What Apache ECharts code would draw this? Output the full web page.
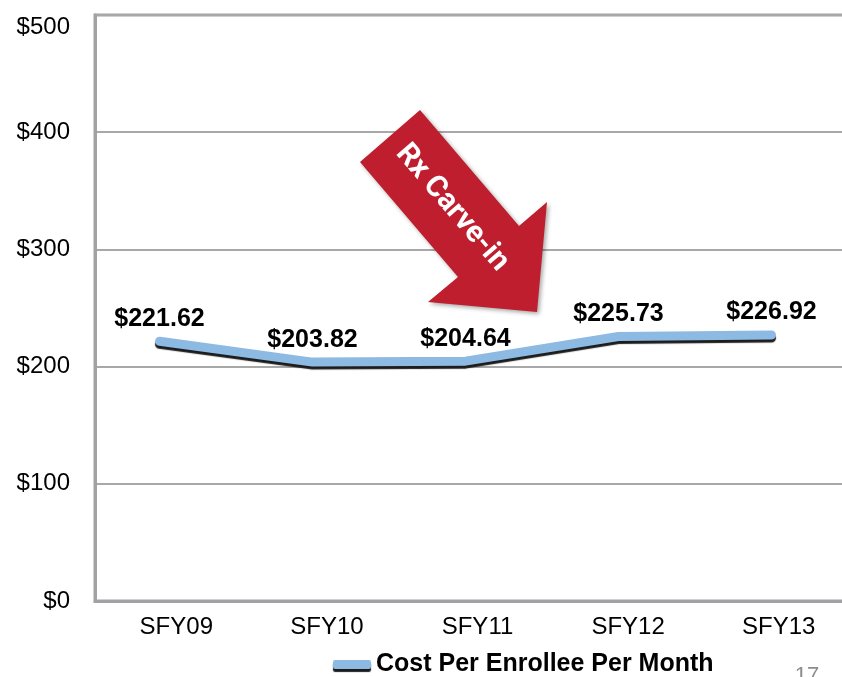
<!DOCTYPE html>
<html>
<head>
<meta charset="utf-8">
<script src="https://cdn.jsdelivr.net/npm/echarts@6/dist/echarts.min.js"></script>
<style>
  html, body { margin: 0; padding: 0; background: #fff; }
  #chart { width: 842px; height: 677px; }
</style>
</head>
<body>
<div id="chart"></div>
<script>
var years = ["SFY09", "SFY10", "SFY11", "SFY12", "SFY13"];
var costPerEnrollee = [221.62, 203.82, 204.64, 225.73, 226.92];
var seriesName = "Cost Per Enrollee Per Month";
var yTicks = { min: 0, max: 500, interval: 100 };

var plain = "'Liberation Sans', Arial, sans-serif";
var axisGray = "#a2a2a6";

var chart = echarts.init(document.getElementById("chart"));
chart.setOption({
  animation: false,
  backgroundColor: "#fff",
  grid: [
    {
      // frame, gridlines and tick labels
      left: 95,
      right: -6,
      top: 15,
      bottom: 76,
      outerBoundsMode: "none",
      show: true,
      borderColor: axisGray,
      borderWidth: 3,
      backgroundColor: "transparent",
    },
    {
      // the line sits a little left of the category labels in the original
      left: 83,
      width: 765,
      top: 15,
      bottom: 76,
      outerBoundsMode: "none",
    },
  ],
  xAxis: [
    {
      type: "category",
      gridIndex: 0,
      data: years,
      boundaryGap: true,
      axisTick: { show: false },
      axisLine: { show: true, lineStyle: { color: axisGray, width: 3 } },
      axisLabel: {
        color: "#000",
        fontFamily: plain,
        fontSize: 24,
        margin: 14,
        padding: [0, 0, 0, 12],
      },
    },
    {
      type: "category",
      gridIndex: 1,
      data: years,
      boundaryGap: true,
      show: false,
    },
  ],
  yAxis: [
    {
      type: "value",
      gridIndex: 0,
      min: yTicks.min,
      max: yTicks.max,
      interval: yTicks.interval,
      axisTick: { show: false },
      axisLine: { show: true, lineStyle: { color: axisGray, width: 3 } },
      splitLine: { show: true, lineStyle: { color: "#a8a8a8", width: 2 } },
      axisLabel: {
        color: "#000",
        fontFamily: plain,
        fontSize: 24,
        margin: 25,
        verticalAlignMaxLabel: "top",
        formatter: function (v) {
          return "$" + v;
        },
      },
    },
    {
      type: "value",
      gridIndex: 1,
      min: yTicks.min,
      max: yTicks.max,
      interval: yTicks.interval,
      show: false,
      splitLine: { show: false },
    },
  ],
  legend: {
    left: 328,
    top: 647,
    icon: "roundRect",
    itemWidth: 38,
    itemHeight: 9,
    itemGap: 5,
    itemStyle: {
      color: "#8cbae3",
      opacity: 1,
      borderWidth: 0,
      shadowColor: "#1c1c1c",
      shadowBlur: 1,
      shadowOffsetY: 3,
    },
    textStyle: {
      color: "#000",
      fontFamily: plain,
      fontWeight: "bold",
      fontSize: 25,
    },
    data: [seriesName],
  },
  series: [
    {
      name: seriesName,
      type: "line",
      xAxisIndex: 1,
      yAxisIndex: 1,
      data: costPerEnrollee,
      symbol: "circle",
      symbolSize: 0,
      showSymbol: true,
      itemStyle: { color: "rgba(0,0,0,0)" },
      lineStyle: {
        color: "#8cbae3",
        width: 9,
        cap: "round",
        join: "round",
        shadowColor: "#1c1c1c",
        shadowBlur: 1,
        shadowOffsetX: 0,
        shadowOffsetY: 3,
      },
      label: {
        show: true,
        position: "top",
        distance: 10,
        color: "#000",
        fontFamily: plain,
        fontWeight: "bold",
        fontSize: 25,
        formatter: function (p) {
          return "$" + p.value.toFixed(2);
        },
      },
    },
  ],
  graphic: [
    {
      type: "polygon",
      shape: {
        points: [
          [420, 110],
          [519, 226],
          [547, 202],
          [537, 312],
          [428, 302],
          [458, 277],
          [360, 162],
        ],
      },
      style: {
        fill: "#be1e2d",
        shadowColor: "rgba(0,0,0,0.35)",
        shadowBlur: 4,
        shadowOffsetX: 2,
        shadowOffsetY: 2,
      },
      z: 100,
    },
    {
      type: "text",
      x: 452,
      y: 208,
      rotation: -0.86,
      style: {
        text: "Rx Carve-in",
        fill: "#fff",
        font: "bold 30px Roboto, sans-serif",
        align: "center",
        verticalAlign: "middle",
      },
      z: 101,
    },
    {
      type: "text",
      x: 807,
      y: 665,
      style: {
        text: "17",
        fill: "#8c8c8c",
        font: "22px 'Liberation Sans', sans-serif",
        align: "center",
        verticalAlign: "top",
      },
      z: 101,
    },
  ],
});
</script>
</body>
</html>
